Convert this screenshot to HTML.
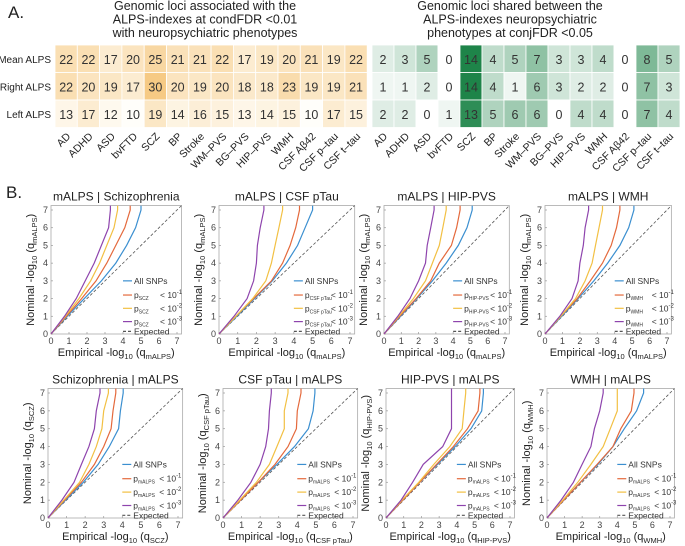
<!DOCTYPE html>
<html><head><meta charset="utf-8"><style>
body{margin:0;background:#fff;}
svg{display:block;font-family:"Liberation Sans",Arial,sans-serif;}
</style></head><body>
<svg id="fig" width="685" height="546" viewBox="0 0 685 546" xmlns="http://www.w3.org/2000/svg"></svg>
<script>
const NS='http://www.w3.org/2000/svg';
const svg=document.getElementById('fig');
// ---- heatmap data ----
const phenotypes=['AD','ADHD','ASD','bvFTD','SCZ','BP','Stroke','WM\u2013PVS','BG\u2013PVS','HIP\u2013PVS','WMH','CSF A\u03b242','CSF p\u2013tau','CSF t\u2013tau'];
const rowLabels=['Mean ALPS','Right ALPS','Left ALPS'];
const condMean=[22,22,17,20,25,21,21,22,17,19,20,21,19,22];
const condRight=[22,20,19,17,30,20,19,20,18,18,23,19,19,21];
const condLeft=[13,17,12,10,19,14,16,15,13,14,15,10,17,15];
const conjMean=[2,3,5,0,14,4,5,7,3,3,4,0,8,5];
const conjRight=[1,1,2,0,14,4,1,6,3,2,2,0,7,3];
const conjLeft=[2,2,0,1,13,5,6,6,0,4,4,0,7,4];
// ---- QQ data: x positions at nominal y = 0..7 ----
const yLevels=[0,1,2,3,4,5,6,7];
const qqAll=[[0,.9,1.85,2.8,3.6,4.2,4.7,5.0],[0,.95,1.9,2.85,3.6,4.2,4.6,5.0],[0,.95,1.9,2.8,3.6,4.3,4.8,5.1],[0,.95,1.9,2.8,3.6,4.3,4.8,5.1],
 [0,.95,1.9,2.7,3.3,3.8,3.9,4.05],[0,.95,1.9,2.9,3.85,4.6,4.85,4.95],[0,.95,1.9,2.9,3.9,4.8,5.4,5.5],[0,.95,1.9,2.9,3.75,4.4,5.1,5.5]];
const qqP1=[[0,.85,1.7,2.5,3.1,3.6,4.1,4.4],[0,.9,1.85,2.8,3.4,3.8,4.1,4.3],[0,.9,1.85,2.7,3.2,3.9,4.2,4.4],[0,.9,1.85,2.6,3.3,3.8,4.1,4.3],
 [0,.9,1.8,2.5,3.0,3.4,3.5,3.65],[0,.95,1.9,2.8,3.5,3.95,4.0,4.2],[0,.95,1.9,2.85,3.8,4.6,5.2,5.3],[0,.95,1.9,2.85,3.75,4.2,4.8,4.95]];
const qqP2=[[0,.8,1.55,2.2,2.7,3.1,3.5,3.7],[0,.9,1.8,2.5,2.8,3.0,3.2,3.4],[0,.85,1.7,2.4,2.8,3.2,3.4,3.6],[0,.9,1.75,2.3,2.7,2.9,3.1,3.3],
 [0,.85,1.7,2.2,2.6,2.9,3.0,3.25],[0,.9,1.8,2.5,2.9,3.3,3.3,3.5],[0,.9,1.85,2.7,3.6,4.3,4.4,4.5],[0,.9,1.75,2.5,3.2,3.6,4.0,4.0]];
const qqP3=[[0,.75,1.4,1.9,2.4,2.8,3.2,3.3],[0,.8,1.5,1.85,2.0,2.05,2.2,2.4],[0,.8,1.5,2.0,2.4,2.5,2.7,2.9],[0,.85,1.55,1.9,2.0,2.2,2.3,2.5],
 [0,.75,1.4,1.8,2.2,2.5,2.6,2.8],[0,.8,1.5,2.0,2.3,2.45,2.5,2.6],[0,.85,1.5,2.1,3.2,3.7,3.7,3.7],[0,.8,1.5,2.0,2.5,2.7,3.0,3.2]];
const xTicks=[0,1,2,3,4,5,6,7];
const panelTitles=['mALPS | Schizophrenia','mALPS | CSF pTau','mALPS | HIP-PVS','mALPS | WMH','Schizophrenia | mALPS','CSF pTau | mALPS','HIP-PVS | mALPS','WMH | mALPS'];
const ySubs=['mALPS','mALPS','mALPS','mALPS','SCZ','CSF pTau','HIP-PVS','WMH'];
const xSubs=['mALPS','mALPS','mALPS','mALPS','SCZ','CSF pTau','HIP-PVS','WMH'];
const legSubs=['SCZ','CSF pTau','HIP-PVS','WMH','mALPS','mALPS','mALPS','mALPS'];
const legExps=['-1','-2','-3'];

function el(tag,attrs,parent){const e=document.createElementNS(NS,tag);for(const k in attrs)e.setAttribute(k,attrs[k]);(parent||svg).appendChild(e);return e;}
function txt(s,attrs,parent){const t=el('text',attrs,parent);t.textContent=s;return t;}
function lerp(a,b,t){return a.map((v,i)=>Math.round(v+(b[i]-v)*t));}

let t=txt('A.',{x:8,y:18,'font-size':17,fill:'#222'});

t=txt('B.',{x:6,y:198,'font-size':17,fill:'#222'});


const tl=['Genomic loci associated with the','ALPS-indexes at condFDR <0.01','with neuropsychiatric phenotypes'];
const tr=['Genomic loci shared between the','ALPS-indexes neuropsychiatric','phenotypes at conjFDR <0.05'];
tl.forEach((s,i)=>{const e=txt(s,{x:205,y:10+i*13.5,'font-size':12.5,'text-anchor':'middle',fill:'#222'});
});
tr.forEach((s,i)=>{const e=txt(s,{x:510,y:10+i*13.5,'font-size':12.5,'text-anchor':'middle',fill:'#222'});
});

const rowY=[45,72.5,100],rowH=27.5;
rowLabels.forEach((r,i)=>{const e=txt(r,{x:51,y:rowY[i]+rowH/2+4,'font-size':10,'text-anchor':'end',fill:'#222'});
});

function heat(rows,x0,w,colorFn,name){
 rows.forEach((vals,ri)=>{vals.forEach((v,ci)=>{
  const r=el('rect',{x:x0+ci*w,y:rowY[ri],width:w,height:rowH,fill:colorFn(v),stroke:'#fff','stroke-width':0.8});
  
  const e=txt(String(v),{x:x0+ci*w+w/2,y:rowY[ri]+rowH/2+5,'font-size':12.5,'text-anchor':'middle',fill:'#333'});
  
 });});
 phenotypes.forEach((p,ci)=>{const cx=x0+ci*w+w/2+5;
  const e=txt(p,{x:cx,y:137,'font-size':10.5,'text-anchor':'end',fill:'#222',transform:`rotate(-45 ${cx} 137)`});
  });
}
heat([condMean,condRight,condLeft],55,22.3,v=>{const t=Math.max(0,Math.min(1,(v-10)/20));const c=lerp([255,254,250],[246,202,132],t);return `rgb(${c})`;},'condfdr');
heat([conjMean,conjRight,conjLeft],372,22,v=>{const t=Math.max(0,Math.min(1,v/14));const c=lerp([255,255,255],[30,132,73],t);return `rgb(${c})`;},'conjfdr');

const ox=[51,219,384,545,48,223,386,547];
const x7=[177,350,505,667,178,353,510,670];
const oy=[334,334,334,334,518,518,518,518];
const y7=[210,210,210,210,393,393,393,393];
const colors=['#3b8fd0','#e4693c','#f2c043','#8e44ad'];
for(let p=0;p<8;p++){
 const ux=(x7[p]-ox[p])/7,uy=(oy[p]-y7[p])/7;
 const X=v=>ox[p]+v*ux,Y=v=>oy[p]-v*uy;
 const g=el('g',{});
 const top=Y(7.25),right=X(7.25);
 const box=el('rect',{x:ox[p],y:top,width:right-ox[p],height:oy[p]-top,fill:'none',stroke:'#aaa','stroke-width':0.8},g);
 
 xTicks.forEach(v=>{
  el('line',{x1:X(v),x2:X(v),y1:oy[p],y2:oy[p]-2,stroke:'#999','stroke-width':0.7},g);
  el('line',{x1:ox[p],x2:ox[p]+2,y1:Y(v),y2:Y(v),stroke:'#999','stroke-width':0.7},g);
  let e=txt(String(v),{x:X(v),y:oy[p]+10,'font-size':9,'text-anchor':'middle',fill:'#444'},g);
  
  e=txt(String(v),{x:ox[p]-3,y:Y(v)+3,'font-size':9,'text-anchor':'end',fill:'#444'},g);
  
 });
 let e=el('line',{x1:X(0),y1:Y(0),x2:X(7.25),y2:Y(7.25),stroke:'#555','stroke-width':0.8,'stroke-dasharray':'3,2'},g);
 
 [qqAll,qqP1,qqP2,qqP3].forEach((s,si)=>{
  const xs=s[p];let d=yLevels.map((yv,i)=>(i?'L':'M')+X(xs[i]).toFixed(1)+','+Y(yv).toFixed(1)).join('');
  d+='L'+X(xs[7]).toFixed(1)+','+top.toFixed(1);
  const pl=el('path',{d:d,fill:'none',stroke:colors[si],'stroke-width':1.2},g);
  
 });
 e=txt(panelTitles[p],{x:(ox[p]+right)/2,y:top-5,'font-size':12,'text-anchor':'middle',fill:'#222'},g);
 
 e=el('text',{x:(ox[p]+right)/2,y:oy[p]+22,'font-size':11,'text-anchor':'middle',fill:'#222'},g);
 e.innerHTML=`Empirical -log<tspan font-size="7.5" dy="3">10</tspan><tspan dy="-3"> (q</tspan><tspan font-size="7.5" dy="3">${xSubs[p]}</tspan><tspan dy="-3">)</tspan>`;
 
 const ly=(oy[p]+top)/2,lx=ox[p]-17;
 e=el('text',{x:lx,y:ly,'font-size':11,'text-anchor':'middle',fill:'#222',transform:`rotate(-90 ${lx} ${ly})`},g);
 e.innerHTML=`Nominal -log<tspan font-size="7.5" dy="3">10</tspan><tspan dy="-3"> (q</tspan><tspan font-size="7.5" dy="3">${ySubs[p]}</tspan><tspan dy="-3">)</tspan>`;
 
 const lx0=X(4.0),legY=[3.0,2.2,1.45,0.7,0.15];
 for(let k=0;k<5;k++){
  const yy=Y(legY[k]);
  const ln=el('line',{x1:lx0,x2:lx0+9,y1:yy,y2:yy,stroke:k<4?colors[k]:'#555','stroke-width':1.2,'stroke-dasharray':k<4?'none':'3,2'},g);
  
  const lt=el('text',{x:lx0+11,y:yy+3,'font-size':8.5,fill:'#333'},g);
  if(k==0)lt.textContent='All SNPs';
  else if(k==4)lt.textContent='Expected';
  else lt.innerHTML=`p<tspan font-size="5" dy="2">${legSubs[p]}</tspan>`;
  
  if(k>0&&k<4){
   const lt2=el('text',{x:lx0+37,y:yy+3,'font-size':8.5,fill:'#333'},g);
   lt2.innerHTML=`&lt; 10<tspan font-size="6" dy="-4">${legExps[k-1]}</tspan>`;
   
  }
 }
}
</script>
</body></html>
